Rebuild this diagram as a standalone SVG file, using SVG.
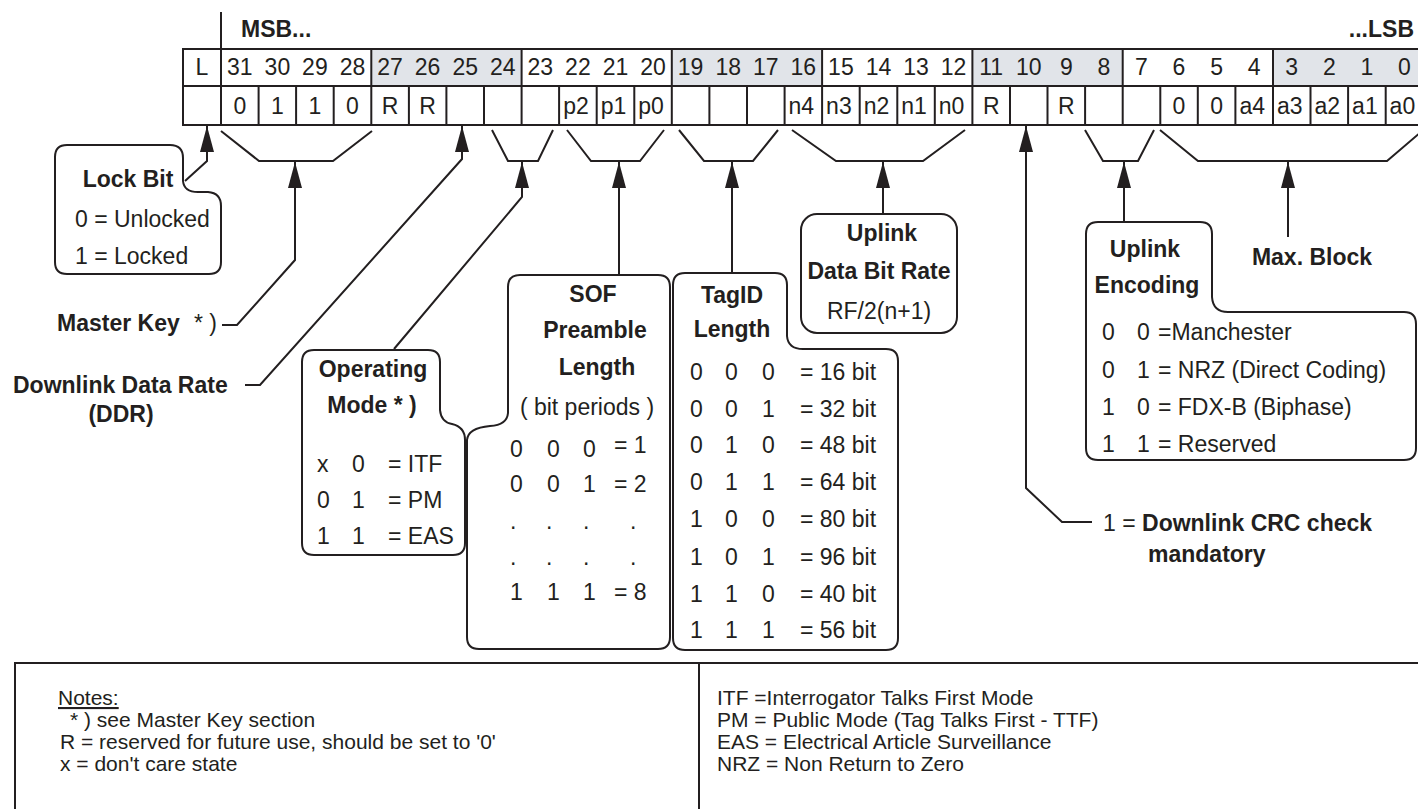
<svg xmlns="http://www.w3.org/2000/svg" width="1418" height="809" viewBox="0 0 1418 809">
<defs>
<style>
text{font-family:"Liberation Sans",Arial,Helvetica,sans-serif;fill:#231f20;font-size:23px}
.b{font-weight:bold}
.m{text-anchor:middle}
.h{font-size:23px}
.c{font-size:21px}
.n{font-size:21px}
.ln{stroke:#231f20;stroke-width:2;fill:none}
.bx{stroke:#231f20;stroke-width:2;fill:#fff}
.g{fill:#e1e4e9}
</style>
<marker id="ah" viewBox="0 0 26 14" refX="26" refY="7" markerWidth="26" markerHeight="14" markerUnits="userSpaceOnUse" orient="auto">
<path d="M0,0 L26,7 L0,14 Z" fill="#231f20"/>
</marker>
</defs>
<rect width="1418" height="809" fill="#fff"/>

<g id="register">
<text class="b" x="241" y="37">MSB...</text>
<text class="b" x="1414" y="37" text-anchor="end">...LSB</text>
<line class="ln" x1="221" y1="12" x2="221" y2="49"/>
<rect x="183" y="49" width="1240" height="76" fill="#fff"/>
<rect class="g" x="371.3" y="49" width="150.3" height="37"/>
<rect class="g" x="671.8" y="49" width="150.3" height="37"/>
<rect class="g" x="972.4" y="49" width="150.3" height="37"/>
<rect class="g" x="1273" y="49" width="150.3" height="37"/>
<rect class="ln" x="183" y="49" width="1240" height="76"/>
<line class="ln" x1="183" y1="86" x2="1423" y2="86"/>
<g class="ln">
<path d="M221,49V125 M371.3,49V125 M521.6,49V125 M671.8,49V125 M822.1,49V125 M972.4,49V125 M1122.7,49V125 M1273,49V125"/>
<path d="M258.6,86V125 M296.1,86V125 M333.7,86V125 M408.9,86V125 M446.4,86V125 M484,86V125 M559.1,86V125 M596.7,86V125 M634.3,86V125 M709.4,86V125 M747,86V125 M784.6,86V125 M859.7,86V125 M897.3,86V125 M934.8,86V125 M1010,86V125 M1047.5,86V125 M1085.1,86V125 M1160.3,86V125 M1197.8,86V125 M1235.4,86V125 M1310.5,86V125 M1348.1,86V125 M1385.7,86V125"/>
</g>
<g class="m h">
<text x="202" y="75">L</text>
<text x="239.8" y="75">31</text><text x="277.4" y="75">30</text><text x="314.9" y="75">29</text><text x="352.5" y="75">28</text>
<text x="390.1" y="75">27</text><text x="427.6" y="75">26</text><text x="465.2" y="75">25</text><text x="502.8" y="75">24</text>
<text x="540.3" y="75">23</text><text x="577.9" y="75">22</text><text x="615.5" y="75">21</text><text x="653.1" y="75">20</text>
<text x="690.6" y="75">19</text><text x="728.2" y="75">18</text><text x="765.8" y="75">17</text><text x="803.3" y="75">16</text>
<text x="840.9" y="75">15</text><text x="878.5" y="75">14</text><text x="916" y="75">13</text><text x="953.6" y="75">12</text>
<text x="991.2" y="75">11</text><text x="1028.7" y="75">10</text><text x="1066.3" y="75">9</text><text x="1103.9" y="75">8</text>
<text x="1141.5" y="75">7</text><text x="1179" y="75">6</text><text x="1216.6" y="75">5</text><text x="1254.2" y="75">4</text>
<text x="1291.7" y="75">3</text><text x="1329.3" y="75">2</text><text x="1366.9" y="75">1</text><text x="1404.4" y="75">0</text>
</g>
<g class="m c">
<text x="239.8" y="114">0</text><text x="277.4" y="114">1</text><text x="314.9" y="114">1</text><text x="352.5" y="114">0</text>
<text x="390.1" y="114">R</text><text x="427.6" y="114">R</text>
<text x="576" y="114">p2</text><text x="613.5" y="114">p1</text><text x="651.1" y="114">p0</text>
<text x="801.3" y="114">n4</text><text x="838.9" y="114">n3</text><text x="876.5" y="114">n2</text><text x="914" y="114">n1</text><text x="951.6" y="114">n0</text>
<text x="991.2" y="114">R</text><text x="1066.3" y="114">R</text>
<text x="1179" y="114">0</text><text x="1216.6" y="114">0</text>
<text x="1252.2" y="114">a4</text><text x="1289.7" y="114">a3</text><text x="1327.3" y="114">a2</text><text x="1364.9" y="114">a1</text><text x="1402.4" y="114">a0</text>
</g>
</g>

<g id="connectors" class="ln">
<path d="M221,131 L259,161 H333 L372,131"/>
<path d="M492,130 L508,161 H538 L553,130"/>
<path d="M567,130 L591,161 H640 L664,130"/>
<path d="M679,130 L704,161 H753 L778,130"/>
<path d="M792,130 L836,161 H923 L965,130"/>
<path d="M1085,130 L1103,161 H1138 L1154,130"/>
<path d="M1160,130 L1198,161 H1387 L1421,132"/>
<path d="M185,181 L207,161 V126" marker-end="url(#ah)"/>
<path d="M222,325 H237 L295,260 V162" marker-end="url(#ah)"/>
<path d="M245,385 H260 L462,159 V126" marker-end="url(#ah)"/>
<path d="M394,349 L522,197 V162" marker-end="url(#ah)"/>
<path d="M619,274 V162" marker-end="url(#ah)"/>
<path d="M732,273 V162" marker-end="url(#ah)"/>
<path d="M883,214 V162" marker-end="url(#ah)"/>
<path d="M1092,522 H1062 L1026,488 V126" marker-end="url(#ah)"/>
<path d="M1124,222 V162" marker-end="url(#ah)"/>
<path d="M1288,237 V162" marker-end="url(#ah)"/>
</g>

<g id="lockbit">
<path class="bx" d="M67,145 H170 Q183,145 183,158 V181 Q184,192 198,192 H208 Q221,193 221,206 V262 Q221,274 209,274 H67 Q55,274 55,262 V157 Q55,145 67,145 Z"/>
<text class="b m" x="128" y="187">Lock Bit</text>
<text x="75" y="227">0 = Unlocked</text>
<text x="75" y="264">1 = Locked</text>
</g>

<g id="masterkey">
<text x="57" y="331"><tspan class="b">Master Key</tspan><tspan x="194">* )</tspan></text>
</g>

<g id="ddr">
<text class="b" x="13" y="393">Downlink Data Rate</text>
<text class="b m" x="121" y="422">(DDR)</text>
</g>

<g id="opmode">
<path class="bx" d="M314,350 H428 Q440,350 440,362 V410 Q441,422 452,424 Q465,427 465,440 V543 Q465,555 453,555 H314 Q302,555 302,543 V362 Q302,350 314,350 Z"/>
<text class="b m" x="373" y="377">Operating</text>
<text class="b m" x="372" y="413">Mode * )</text>
<text x="317" y="472">x</text><text x="352" y="472">0</text><text x="388" y="472">= ITF</text>
<text x="317" y="508">0</text><text x="352" y="508">1</text><text x="388" y="508">= PM</text>
<text x="317" y="544">1</text><text x="352" y="544">1</text><text x="388" y="544">= EAS</text>
</g>

<g id="sof">
<path class="bx" d="M520,275 H658 Q670,275 670,287 V637 Q670,649 658,649 H479 Q467,649 467,637 V440 Q468,428 490,426 Q507,425 508,413 V287 Q508,275 520,275 Z"/>
<text class="b m" x="593" y="302">SOF</text>
<text class="b m" x="595" y="338">Preamble</text>
<text class="b m" x="597" y="375">Length</text>
<text class="m" x="587" y="415">( bit periods )</text>
<text x="510" y="457">0</text><text x="547" y="457">0</text><text x="583" y="457">0</text><text x="614" y="453">= 1</text>
<text x="510" y="492">0</text><text x="547" y="492">0</text><text x="583" y="492">1</text><text x="614" y="492">= 2</text>
<text x="510" y="529">.</text><text x="546" y="529">.</text><text x="583" y="529">.</text><text x="630" y="529">.</text>
<text x="510" y="565">.</text><text x="546" y="565">.</text><text x="583" y="565">.</text><text x="630" y="565">.</text>
<text x="510" y="600">1</text><text x="547" y="600">1</text><text x="583" y="600">1</text><text x="614" y="600">= 8</text>
</g>

<g id="tagid">
<path class="bx" d="M685,273 H775 Q787,273 787,285 V336 Q788,349 803,349 H886 Q898,349 898,361 V638 Q898,650 886,650 H685 Q673,650 673,638 V285 Q673,273 685,273 Z"/>
<text class="b m" x="732" y="303">TagID</text>
<text class="b m" x="732" y="337">Length</text>
<g>
<text x="690" y="380">0</text><text x="725" y="380">0</text><text x="762" y="380">0</text><text x="800" y="380">= 16 bit</text>
<text x="690" y="417">0</text><text x="725" y="417">0</text><text x="762" y="417">1</text><text x="800" y="417">= 32 bit</text>
<text x="690" y="453">0</text><text x="725" y="453">1</text><text x="762" y="453">0</text><text x="800" y="453">= 48 bit</text>
<text x="690" y="490">0</text><text x="725" y="490">1</text><text x="762" y="490">1</text><text x="800" y="490">= 64 bit</text>
<text x="690" y="527">1</text><text x="725" y="527">0</text><text x="762" y="527">0</text><text x="800" y="527">= 80 bit</text>
<text x="690" y="565">1</text><text x="725" y="565">0</text><text x="762" y="565">1</text><text x="800" y="565">= 96 bit</text>
<text x="690" y="602">1</text><text x="725" y="602">1</text><text x="762" y="602">0</text><text x="800" y="602">= 40 bit</text>
<text x="690" y="638">1</text><text x="725" y="638">1</text><text x="762" y="638">1</text><text x="800" y="638">= 56 bit</text>
</g>
</g>

<g id="uplinkrate">
<rect class="bx" x="801" y="214" width="156" height="119" rx="16"/>
<text class="b m" x="882" y="241">Uplink</text>
<text class="b m" x="879" y="279">Data Bit Rate</text>
<text class="m" x="879" y="319">RF/2(n+1)</text>
</g>

<g id="crc">
<text x="1103" y="531">1 = <tspan class="b">Downlink CRC check</tspan></text>
<text class="b" x="1148" y="562">mandatory</text>
</g>

<g id="uplinkenc">
<path class="bx" d="M1098,222 H1200 Q1212,222 1212,234 V297 Q1213,312 1228,312 H1404 Q1416,312 1416,324 V448 Q1416,460 1404,460 H1098 Q1086,460 1086,448 V234 Q1086,222 1098,222 Z"/>
<text class="b m" x="1145" y="257">Uplink</text>
<text class="b m" x="1147" y="293">Encoding</text>
<text x="1102" y="340">0</text><text x="1137" y="340">0</text><text x="1158" y="340">=Manchester</text>
<text x="1102" y="378">0</text><text x="1137" y="378">1</text><text x="1158" y="378">= NRZ (Direct Coding)</text>
<text x="1102" y="415">1</text><text x="1137" y="415">0</text><text x="1158" y="415">= FDX-B (Biphase)</text>
<text x="1102" y="452">1</text><text x="1137" y="452">1</text><text x="1158" y="452">= Reserved</text>
</g>

<g id="maxblock">
<text class="b m" x="1312" y="265">Max. Block</text>
</g>

<g id="notes">
<rect class="ln" x="15" y="663" width="1420" height="170"/>
<line class="ln" x1="699" y1="663" x2="699" y2="809"/>
<text class="n" x="58" y="705" text-decoration="underline">Notes:</text>
<text class="n" x="70" y="727">* ) see  Master Key section</text>
<text class="n" x="60" y="749">R = reserved for future use, should be set to '0'</text>
<text class="n" x="60" y="771">x = don't care state</text>
<text class="n" x="717" y="705">ITF =Interrogator Talks First Mode</text>
<text class="n" x="717" y="727">PM = Public Mode (Tag Talks First - TTF)</text>
<text class="n" x="717" y="749">EAS = Electrical Article Surveillance</text>
<text class="n" x="717" y="771">NRZ = Non Return to Zero</text>
</g>
</svg>
